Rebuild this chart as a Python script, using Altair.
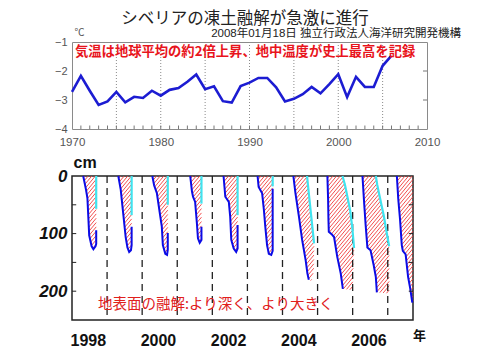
import math
import altair as alt
import pandas as pd

# ---------------- data: top panel (air temperature, deg C) ----------------
temp_years = list(range(1970, 2007))
temp_vals = [-2.72, -2.17, -2.68, -3.17, -3.05, -2.72, -3.08, -2.89, -2.93, -2.68,
             -2.85, -2.65, -2.59, -2.37, -2.12, -2.63, -2.53, -3.04, -3.09, -2.52,
             -2.40, -2.24, -2.24, -2.56, -3.05, -2.96, -2.80, -2.55, -2.77, -2.45,
             -2.11, -2.90, -2.20, -2.55, -2.55, -1.82, -1.47]
top_x_ticks = [1970, 1980, 1990, 2000, 2010]
top_y_ticks = [-4, -3, -2, -1]
grid_years = [1975, 1980, 1985, 1990, 1995, 2000, 2005]
minor_years = list(range(1971, 2010))

# ---------------- data: bottom panel (thaw depth, cm) ----------------
seasons = [1998, 1999, 2000, 2001, 2002, 2003, 2004, 2005, 2006, 2007]
# thaw front (blue): fraction of year, depth
BLUE_T = {
    1998: [0.32, 0.40, 0.44, 0.47, 0.49, 0.56, 0.61, 0.67, 0.69, 0.69],
    1999: [0.32, 0.39, 0.42, 0.47, 0.53, 0.58, 0.63, 0.68, 0.70, 0.70],
    2000: [0.29, 0.34, 0.42, 0.49, 0.56, 0.59, 0.66, 0.71, 0.73, 0.73],
    2001: [0.37, 0.42, 0.45, 0.51, 0.56, 0.59, 0.64, 0.69, 0.69],
    2002: [0.32, 0.37, 0.47, 0.51, 0.54, 0.61, 0.68, 0.72, 0.72],
    2003: [0.29, 0.32, 0.42, 0.47, 0.51, 0.56, 0.61, 0.68, 0.72, 0.72],
    2004: [0.31, 0.37, 0.47, 0.56, 0.66, 0.71, 0.75],
    2005: [0.28, 0.30, 0.31, 0.32, 0.40, 0.47, 0.56, 0.66, 0.71, 0.72],
    2006: [0.28, 0.32, 0.37, 0.42, 0.51, 0.60, 0.66, 0.69],
    2007: [0.26, 0.30, 0.35, 0.40, 0.43, 0.51, 0.58, 0.64, 0.70],
}
BLUE_D = {
    1998: [0, 24, 39, 77, 103, 122, 127, 122, 118, 94],
    1999: [0, 24, 42, 71, 106, 124, 132, 129, 120, 88],
    2000: [0, 16, 30, 59, 88, 120, 135, 137, 128, 99],
    2001: [0, 27, 36, 45, 82, 108, 116, 111, 88],
    2002: [0, 36, 45, 71, 111, 126, 132, 126, 85],
    2003: [0, 19, 30, 59, 88, 120, 135, 137, 130, 22],
    2004: [0, 30, 71, 111, 146, 169, 180],
    2005: [0, 40, 75, 97, 101, 106, 140, 169, 191, 196],
    2006: [0, 40, 85, 124, 129, 155, 175, 202],
    2007: [0, 40, 75, 120, 130, 136, 175, 195, 220],
}
# freezing line (cyan)
CYAN_T = {
    1998: [0.69, 0.69], 1999: [0.70, 0.70], 2000: [0.73, 0.73],
    2001: [0.69, 0.69], 2002: [0.72, 0.72], 2003: [0.72, 0.72],
    2004: [0.70, 0.75, 0.85, 0.90],
    2005: [0.71, 0.78, 0.85, 0.93, 0.99, 1.04],
    2006: [0.66, 0.70, 0.75, 0.82, 0.89, 0.96, 1.04],
}
CYAN_D = {
    1998: [0, 57], 1999: [0, 68], 2000: [0, 50],
    2001: [0, 48], 2002: [0, 68], 2003: [0, 18],
    2004: [0, 30, 88, 117],
    2005: [0, 15, 36, 60, 90, 125],
    2006: [0, 15, 30, 50, 70, 95, 122],
}
# extra outline of the thawed (hatched) zone between blue end and cyan bottom
EDGE_T = {2004: [0.82, 0.89], 2005: [0.99, 1.00], 2006: [1.04], 2007: [0.72, 0.72]}
EDGE_D = {2004: [182, 165], 2005: [198, 190], 2006: [204], 2007: [222, 0]}

bottom_label_years = [1998, 2000, 2002, 2004, 2006]
year_lines = list(range(1999, 2008))
depth_ticks = [50, 100, 150, 200]

# ---------------- geometry settings ----------------
W_TOP, H_TOP = 355, 87
W_BOT, H_BOT = 341, 144
X0, X1 = 1998.0, 2007.72
D_MAX = 250
CJK = "Noto Sans CJK JP"
LAT = "Liberation Sans"
MIX = "Liberation Sans, Noto Sans CJK JP"

# ---------------- build tables ----------------
temp_df = pd.DataFrame({"year": temp_years, "temp": temp_vals})
grid_df = pd.DataFrame({"year": grid_years})
minor_df = pd.DataFrame({"year": minor_years, "y0": -4.0, "y1": -3.88})
rtick_df = pd.DataFrame({"x0": 2010.0, "x1": 2009.55, "v": [-3, -2]})

blue_rows, cyan_rows, hatch_rows = [], [], []
for yr in seasons:
    for i, (t, d) in enumerate(zip(BLUE_T[yr], BLUE_D[yr])):
        blue_rows.append({"season": yr, "i": i, "t": yr + t, "d": d})
    if yr in CYAN_T:
        for i, (t, d) in enumerate(zip(CYAN_T[yr], CYAN_D[yr])):
            cyan_rows.append({"season": yr, "i": i, "t": yr + t, "d": d})

# hatch pattern of the thawed zone (diagonal lines clipped to the outline)
PXY = W_BOT / (X1 - X0)
PXC = H_BOT / D_MAX
K = 1.2
STEP = 3.6
for yr in seasons:
    poly = list(zip(BLUE_T[yr], BLUE_D[yr]))
    poly += list(zip(EDGE_T.get(yr, []), EDGE_D.get(yr, [])))
    if yr in CYAN_T:
        poly += list(reversed(list(zip(CYAN_T[yr], CYAN_D[yr]))))
    pts = [((yr + t - X0) * PXY, d * PXC) for t, d in poly]
    vals = [y + K * x for x, y in pts]
    dc = K * STEP
    c = math.floor(min(vals) / dc) * dc + dc / 2
    while c <= max(vals):
        xs = []
        n = len(pts)
        for j in range(n):
            (xa, ya), (xb, yb) = pts[j], pts[(j + 1) % n]
            fa, fb = ya + K * xa - c, yb + K * xb - c
            if (fa < 0) != (fb < 0):
                s = fa / (fa - fb)
                xs.append(xa + s * (xb - xa))
        xs.sort()
        for a, b in zip(xs[0::2], xs[1::2]):
            hatch_rows.append({"t1": X0 + a / PXY, "d1": (c - K * a) / PXC,
                               "t2": X0 + b / PXY, "d2": (c - K * b) / PXC})
        c += dc

blue_df = pd.DataFrame(blue_rows)
cyan_df = pd.DataFrame(cyan_rows)
hatch_df = pd.DataFrame(hatch_rows)
yl_df = pd.DataFrame({"t": year_lines})
ltick_df = pd.DataFrame({"a": X0, "b": X0 + 0.12, "d": depth_ticks})
rtick2_df = pd.DataFrame({"a": X1, "b": X1 - 0.12, "d": depth_ticks})

# ---------------- top panel ----------------
tx_scale = alt.Scale(domain=[1970, 2010], nice=False, zero=False)
ty_scale = alt.Scale(domain=[-4, -1], nice=False, zero=False)
tx_axis = alt.Axis(values=top_x_ticks, format="d", labelColor="#555", labelFontSize=11.5,
                   labelFont=LAT, labelPadding=7, ticks=False, domain=False, grid=False,
                   labelFlush=False, title=None)
ty_axis = alt.Axis(values=top_y_ticks, labelColor="#555", labelFontSize=11, labelFont=LAT,
                   labelPadding=5, ticks=False, domain=False, grid=False,
                   minExtent=63, maxExtent=63, title="℃", titleAngle=0, titleX=2, titleY=-10,
                   titleAlign="left", titleBaseline="middle", titleFontSize=10,
                   titleFontWeight="normal", titleColor="#555", titleFont=MIX)


def TX(f):
    return alt.X(f, type="quantitative", scale=tx_scale, axis=tx_axis, title=None)


def TY(f):
    return alt.Y(f, type="quantitative", scale=ty_scale, axis=ty_axis, title="℃")


grid = alt.Chart(grid_df).mark_rule(color="#8a8a8a", strokeDash=[1, 2], strokeWidth=1).encode(
    x=TX("year"))
minor = alt.Chart(minor_df).mark_rule(color="#777", strokeWidth=1).encode(
    x=TX("year"), y=TY("y0"), y2="y1")
rtick = alt.Chart(rtick_df).mark_rule(color="#777", strokeWidth=1).encode(
    x=TX("x0"), x2="x1", y=TY("v"))
tline = alt.Chart(temp_df).mark_line(color="#1c1cd2", strokeWidth=2.6).encode(
    x=TX("year"), y=TY("temp"))

title_txt = alt.Chart(pd.DataFrame({"s": ["シベリアの凍土融解が急激に進行"]})).mark_text(
    font=MIX, fontSize=16.5, color="#222", align="center", baseline="middle").encode(
    text="s:N", x=alt.value(173), y=alt.value(-23.5))
sub_txt = alt.Chart(pd.DataFrame({"s": ["2008年01月18日 独立行政法人海洋研究開発機構"]})).mark_text(
    font=MIX, fontSize=11.5, color="#222", align="right", baseline="middle").encode(
    text="s:N", x=alt.value(389), y=alt.value(-8.5))
red_top = alt.Chart(pd.DataFrame({"s": ["気温は地球平均の約2倍上昇、地中温度が史上最高を記録"]})).mark_text(
    font=CJK, fontSize=13.3, fontWeight="bold", color="#e8141c", align="left",
    baseline="middle").encode(text="s:N", x=alt.value(3), y=alt.value(10))

top = alt.layer(grid, minor, rtick, tline, red_top, title_txt, sub_txt).properties(
    width=W_TOP, height=H_TOP, view=alt.ViewBackground(stroke="#8a8a8a", strokeWidth=1))

# ---------------- bottom panel ----------------
bx_scale = alt.Scale(domain=[X0, X1], nice=False, zero=False)
by_scale = alt.Scale(domain=[0, D_MAX], nice=False, zero=False, reverse=True)
bx_axis = alt.Axis(values=[y + 0.45 for y in bottom_label_years], labelExpr="'' + floor(datum.value)",
                   labelFont=LAT, labelFontSize=16, labelFontWeight="bold", labelColor="#111",
                   labelPadding=12, ticks=False, domain=False, grid=False, labelFlush=False,
                   title="年", titleAngle=0, titleX=347, titleY=15, titleAlign="center",
                   titleBaseline="middle", titleFontSize=13, titleFontWeight="bold",
                   titleFont=CJK, titleColor="#111")
by_axis = alt.Axis(values=[0, 100, 200], labelFont=LAT, labelFontSize=17, labelFontWeight="bold",
                   labelFontStyle="italic", labelColor="#111", labelPadding=5, ticks=False,
                   domain=False, grid=False, minExtent=63, maxExtent=63,
                   title="cm", titleAngle=0, titleX=1, titleY=-14, titleAlign="left",
                   titleBaseline="middle", titleFontSize=16, titleFontWeight="bold",
                   titleFont=LAT, titleColor="#111")


def BX(f):
    return alt.X(f, type="quantitative", scale=bx_scale, axis=bx_axis, title="年")


def BY(f):
    return alt.Y(f, type="quantitative", scale=by_scale, axis=by_axis, title="cm")


hatch = alt.Chart(hatch_df).mark_rule(color="#f03c3c", strokeWidth=0.9).encode(
    x=BX("t1"), x2="t2", y=BY("d1"), y2="d2")
ylines = alt.Chart(yl_df).mark_rule(color="#222", strokeDash=[7, 5], strokeWidth=1.3).encode(
    x=BX("t"))
cyan = alt.Chart(cyan_df).mark_line(color="#3fe3ef", strokeWidth=2.2).encode(
    x=BX("t"), y=BY("d"), detail="season:N", order="i:Q")
blue = alt.Chart(blue_df).mark_line(color="#0b0be6", strokeWidth=2).encode(
    x=BX("t"), y=BY("d"), detail="season:N", order="i:Q")
lt = alt.Chart(ltick_df).mark_rule(color="#222", strokeWidth=1).encode(
    x=BX("a"), x2="b", y=BY("d"))
rt = alt.Chart(rtick2_df).mark_rule(color="#222", strokeWidth=1).encode(
    x=BX("a"), x2="b", y=BY("d"))
red_bot = alt.Chart(pd.DataFrame({"s": ["地表面の融解:より深く、より大きく"]})).mark_text(
    font=CJK, fontSize=14.5, color="#e0201c", align="left", baseline="middle").encode(
    text="s:N", x=alt.value(26), y=alt.value(129))

bottom = alt.layer(hatch, ylines, cyan, blue, lt, rt, red_bot).properties(
    width=W_BOT, height=H_BOT, view=alt.ViewBackground(stroke="#222", strokeWidth=1.5))

chart = alt.vconcat(top, bottom, spacing=47, bounds="flush").properties(
    padding={"left": 0, "top": 2, "right": 4, "bottom": 4}, background="white"
).configure(font=LAT)

chart.save("out.html", embed_options={"renderer": "svg", "actions": False})
